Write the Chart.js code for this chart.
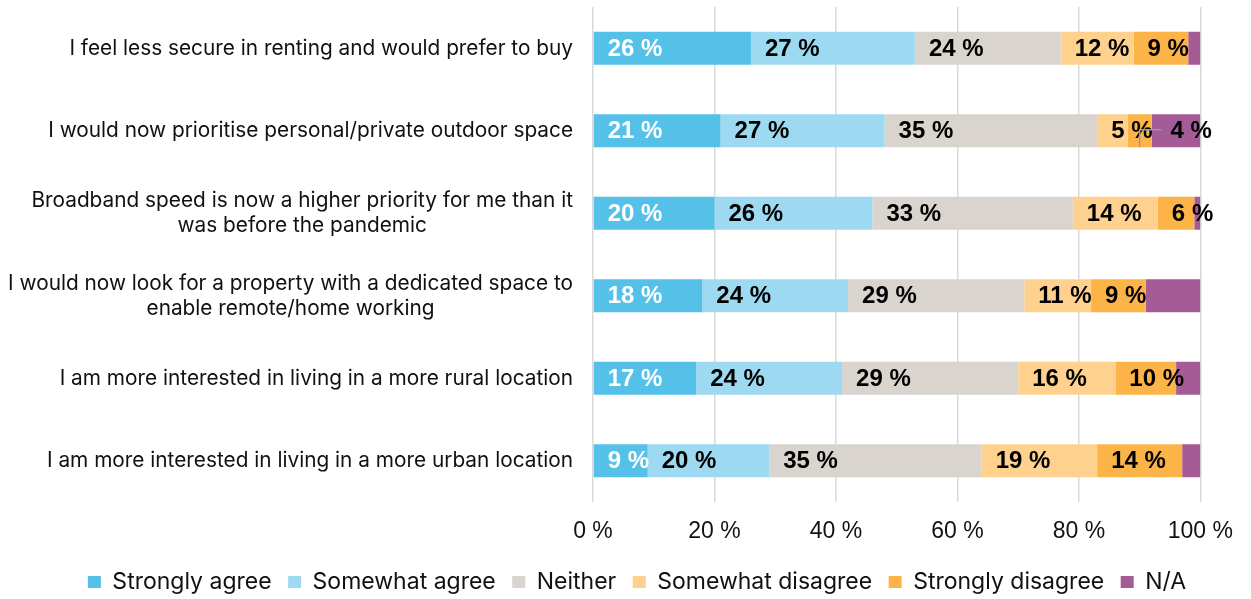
<!DOCTYPE html>
<html>
<head>
<meta charset="utf-8">
<script src="https://cdn.jsdelivr.net/npm/chart.js@4.4.1/dist/chart.umd.min.js"></script>
<style>
  html, body { margin: 0; padding: 0; background: #ffffff; }
  #chart { display: block; }
</style>
</head>
<body>
<canvas id="chart" width="1251" height="599"></canvas>
<script>
// Survey statements (multi-line where the label wraps)
const categories = [
  ['I feel less secure in renting and would prefer to buy'],
  ['I would now prioritise personal/private outdoor space'],
  ['Broadband speed is now a higher priority for me than it', 'was before the pandemic'],
  ['I would now look for a property with a dedicated space to', 'enable remote/home working'],
  ['I am more interested in living in a more rural location'],
  ['I am more interested in living in a more urban location']
];

// Share of respondents per answer, in percent
const stronglyAgree    = [26, 21, 20, 18, 17, 9];
const somewhatAgree    = [27, 27, 26, 24, 24, 20];
const neither          = [24, 35, 33, 29, 29, 35];
const somewhatDisagree = [12, 5, 14, 11, 16, 19];
const stronglyDisagree = [9, 4, 6, 9, 10, 14];
const notApplicable    = [2, 8, 1, 9, 4, 3];

const seriesNames = ['Strongly agree', 'Somewhat agree', 'Neither', 'Somewhat disagree', 'Strongly disagree', 'N/A'];
const xTickValues = [0, 20, 40, 60, 80, 100];

const seriesColors = ['#55C1E8', '#9DDAF2', '#D9D4CE', '#FED18F', '#FCB449', '#A45B96'];
const valueLabelColors = ['#ffffff', '#000000', '#000000', '#000000', '#000000', null];

const seriesValues = [stronglyAgree, somewhatAgree, neither, somewhatDisagree, stronglyDisagree, notApplicable];

const datasets = seriesValues.map((values, i) => ({
  label: seriesNames[i],
  data: values,
  backgroundColor: seriesColors[i],
  borderWidth: 0,
  categoryPercentage: 1.0,
  barPercentage: 0.4,
  valueLabelColor: valueLabelColors[i]
}));

// Category labels: block right-aligned next to the plot, wrapped lines centred within the block
const categoryLabels = {
  id: 'categoryLabels',
  afterDraw(chart, args, opts) {
    const ctx = chart.ctx;
    const yScale = chart.scales.y;
    const right = chart.chartArea.left - opts.gap;
    ctx.save();
    ctx.font = opts.font;
    ctx.fillStyle = opts.color;
    ctx.textBaseline = 'middle';
    ctx.textAlign = 'center';
    chart.data.labels.forEach((lines, i) => {
      const cy = yScale.getPixelForValue(i);
      const widths = lines.map(l => ctx.measureText(l).width);
      const blockW = Math.max(...widths);
      const cx = right - blockW / 2;
      const top = cy - (lines.length - 1) * opts.lineHeight / 2;
      lines.forEach((l, k) => ctx.fillText(l, cx, top + k * opts.lineHeight));
    });
    ctx.restore();
  }
};

// Percentage labels at the start of each segment
const valueLabels = {
  id: 'valueLabels',
  afterDatasetsDraw(chart, args, opts) {
    const ctx = chart.ctx;
    ctx.save();
    ctx.font = opts.font;
    ctx.textBaseline = 'middle';
    ctx.textAlign = 'left';
    chart.data.datasets.forEach((ds, di) => {
      if (!ds.valueLabelColor) return;
      const meta = chart.getDatasetMeta(di);
      meta.data.forEach((bar, i) => {
        const left = Math.min(bar.x, bar.base);
        let x = left + opts.inset;
        const moved = opts.moved.find(m => m.dataset === di && m.index === i);
        if (moved) {
          // label pushed past a narrow segment, joined back with a leader line
          x += moved.dx;
          const cx = (bar.x + bar.base) / 2;
          ctx.strokeStyle = opts.leaderColor;
          ctx.lineWidth = 1.5;
          ctx.beginPath();
          ctx.moveTo(cx, bar.y + bar.height / 2);
          ctx.lineTo(cx, bar.y - 1);
          ctx.lineTo(x - 9, bar.y - 1);
          ctx.stroke();
        }
        ctx.fillStyle = ds.valueLabelColor;
        ctx.fillText(ds.data[i] + ' %', x, bar.y + 1);
      });
    });
    ctx.restore();
  }
};

new Chart(document.getElementById('chart'), {
  type: 'bar',
  data: { labels: categories, datasets },
  options: {
    indexAxis: 'y',
    responsive: false,
    devicePixelRatio: 1,
    animation: false,
    layout: { padding: { left: 23, right: 0, top: 7, bottom: -4.5 } },
    scales: {
      x: {
        type: 'linear',
        stacked: true,
        min: 0,
        max: 100,
        afterBuildTicks: (scale) => { scale.ticks = xTickValues.map(v => ({ value: v })); },
        afterFit: (scale) => { scale.height = 52; },
        ticks: {
          callback: (v) => v + ' %',
          color: '#111111',
          padding: 18,
          maxRotation: 0,
          font: { family: '"Liberation Sans", Arial, sans-serif', size: 23, lineHeight: 24 / 23 }
        },
        grid: { color: '#d9d9d9', lineWidth: 1.5, drawTicks: false },
        border: { display: false }
      },
      y: {
        type: 'category',
        stacked: true,
        afterFit: (scale) => { scale.width = 570; },
        ticks: { display: false },
        grid: { display: false },
        border: { display: false }
      },
      yRight: {
        type: 'category',
        position: 'right',
        afterFit: (scale) => { scale.width = 47; },
        ticks: { display: false },
        grid: { display: false },
        border: { display: false }
      }
    },
    plugins: {
      legend: {
        position: 'bottom',
        labels: {
          boxWidth: 13,
          boxHeight: 12,
          padding: 16.5,
          color: '#111111',
          font: { family: 'Inter, Roboto, sans-serif', size: 23 }
        }
      },
      tooltip: { enabled: false },
      categoryLabels: {
        font: '20.8px Inter, Roboto, sans-serif',
        color: '#111111',
        gap: 20,
        lineHeight: 25
      },
      valueLabels: {
        font: 'bold 24px "Liberation Sans", Arial, sans-serif',
        inset: 14,
        leaderColor: '#9a9a9a',
        moved: [{ dataset: 4, index: 1, dx: 29 }]
      }
    }
  },
  plugins: [categoryLabels, valueLabels]
});
</script>
</body>
</html>
